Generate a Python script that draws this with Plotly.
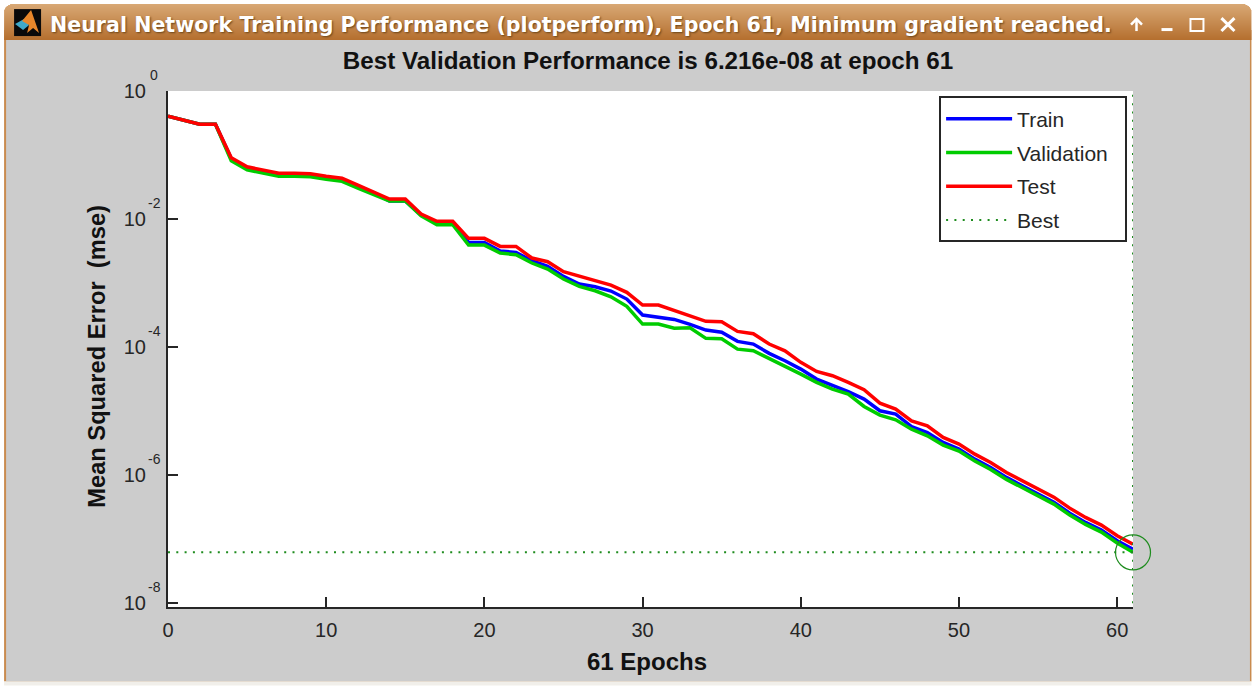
import plotly.graph_objects as go

# ---- data (as log10 of the MSE) ----
epochs = list(range(62))
train_log10 = [-0.395,-0.464,-0.520,-0.520,-1.058,-1.199,-1.246,-1.302,-1.302,-1.308,-1.349,-1.380,-1.485,-1.589,-1.719,-1.719,
 -1.938,-2.059,-2.059,-2.365,-2.365,-2.500,-2.521,-2.651,-2.740,-2.896,-3.015,-3.058,-3.125,-3.250,-3.500,-3.536,-3.568,-3.646,
 -3.734,-3.768,-3.911,-3.953,-4.098,-4.214,-4.344,-4.500,-4.593,-4.697,-4.812,-4.995,-5.047,-5.241,-5.335,-5.489,-5.594,-5.750,
 -5.880,-6.036,-6.167,-6.297,-6.422,-6.594,-6.739,-6.859,-7.026,-7.156]
validation_log10 = [-0.395,-0.464,-0.520,-0.520,-1.089,-1.230,-1.277,-1.333,-1.333,-1.339,-1.380,-1.411,-1.516,-1.620,-1.719,-1.719,
 -1.949,-2.088,-2.088,-2.407,-2.407,-2.532,-2.557,-2.687,-2.781,-2.937,-3.051,-3.120,-3.214,-3.364,-3.641,-3.641,-3.704,-3.699,
 -3.864,-3.871,-4.032,-4.058,-4.176,-4.292,-4.422,-4.552,-4.656,-4.735,-4.928,-5.063,-5.136,-5.282,-5.386,-5.531,-5.625,-5.781,
 -5.911,-6.067,-6.198,-6.328,-6.453,-6.625,-6.770,-6.890,-7.060,-7.206]
test_log10 = [-0.395,-0.464,-0.520,-0.520,-1.042,-1.183,-1.230,-1.286,-1.286,-1.292,-1.333,-1.364,-1.469,-1.573,-1.688,-1.688,
 -1.922,-2.036,-2.036,-2.302,-2.302,-2.427,-2.427,-2.609,-2.667,-2.823,-2.895,-2.964,-3.031,-3.145,-3.344,-3.344,-3.427,-3.516,
 -3.598,-3.605,-3.755,-3.792,-3.953,-4.058,-4.239,-4.380,-4.448,-4.552,-4.667,-4.875,-4.969,-5.152,-5.230,-5.411,-5.516,-5.672,
 -5.802,-5.958,-6.089,-6.219,-6.344,-6.516,-6.661,-6.781,-6.948,-7.078]
best_epoch = 61
best_value = 6.216e-08
y_exponents = [0, -2, -4, -6, -8]
x_ticks = [0, 10, 20, 30, 40, 50, 60]

W, H = 1254, 686
L, R, T, B = 168, 1133.5, 91, 607.5
INK = "#262626"
FONT = "Liberation Sans"

def to_val(a):
    return [10 ** v for v in a]

def px(x):
    return (x - L) / (R - L)

def py(y):
    return 1 - (y - T) / (B - T)

def rect(x0, y0, x1, y1, color):
    return dict(type="rect", xref="paper", yref="paper", x0=px(x0), x1=px(x1), y0=py(y0), y1=py(y1),
                fillcolor=color, line=dict(width=0), layer="below")

def path(points, fill=None, line=None, width=0, close=True):
    d = "M " + " L ".join(f"{px(a):.5f},{py(b):.5f}" for a, b in points) + (" Z" if close else "")
    return dict(type="path", xref="paper", yref="paper", path=d, fillcolor=fill or "rgba(0,0,0,0)",
                line=dict(color=line or "rgba(0,0,0,0)", width=width), layer="below")

shapes = []
# window body
shapes.append(rect(4, 30, 1252, 682, "#C98B4F"))
shapes.append(rect(6, 40, 1250.5, 682, "#CCCCCC"))
shapes.append(rect(4, 682, 1252, 686, "#F1EFEA"))
# plot background (white) sits above the window body
shapes.append(rect(L, T, R, B, "white"))
# title bar gradient with rounded top corners
top_c, bot_c = (216, 168, 116), (181, 112, 48)
rows = 36
for i in range(rows):
    t = i / (rows - 1)
    c = tuple(int(top_c[k] + (bot_c[k] - top_c[k]) * t) for k in range(3))
    inset = [6, 4, 2.5, 1.5, 1, 0.5][i] if i < 6 else 0
    shapes.append(rect(4 + inset, 4 + i, 1252 - inset, 5 + i, f"rgb{c}"))
# app icon
shapes.append(rect(14, 9, 41, 36, "#0A0A0A"))
shapes.append(path([(15, 24), (24, 19), (29, 25), (23, 30)], fill="#3FA9C9"))
shapes.append(path([(22, 21), (31, 10), (39, 33), (33, 28), (27, 33), (29, 25)], fill="#E8872B"))
# window buttons
shapes.append(path([(1137, 19), (1137, 31)], line="white", width=2.5, close=False))
shapes.append(path([(1131.5, 24.5), (1137, 19), (1142.5, 24.5)], line="white", width=2.5, close=False))
shapes.append(rect(1162, 28, 1173, 31, "white"))
shapes.append(dict(type="rect", xref="paper", yref="paper", x0=px(1191), x1=px(1204), y0=py(19), y1=py(31),
                   line=dict(color="white", width=2), fillcolor="rgba(0,0,0,0)", layer="below"))
shapes.append(path([(1222, 18), (1235, 31)], line="white", width=3, close=False))
shapes.append(path([(1235, 18), (1222, 31)], line="white", width=3, close=False))

annotations = [
    dict(text="Neural Network Training Performance (plotperform), Epoch 61, Minimum gradient reached.",
         xref="paper", yref="paper", x=px(48), y=py(25), xanchor="left", yanchor="middle", showarrow=False,
         font=dict(family="DejaVu Sans", size=20.6, color="white", weight="bold", shadow="1px 1px 2px #6b4418")),
    dict(text="<b>61 Epochs</b>", xref="paper", yref="paper", x=px(647), y=py(662), xanchor="center", yanchor="middle",
         showarrow=False, font=dict(family=FONT, size=24, color="#111111")),
    dict(text="<b>Mean Squared Error\u00a0 (mse)</b>", xref="paper", yref="paper", x=px(97), y=py(357), xanchor="center",
         yanchor="middle", textangle=-90, showarrow=False, font=dict(family=FONT, size=23.7, color="#111111")),
]
for e in y_exponents:
    annotations.append(dict(text=str(e), xref="paper", yref="y", x=px(154), y=e, yshift=16, xanchor="center",
                            yanchor="middle", showarrow=False, font=dict(family=FONT, size=14, color=INK)))

BEST_C = "rgb(30,140,30)"
DOT = "2px,6.3px"
fig = go.Figure()
for name, vals, col in [("Train", train_log10, "#0000FF"), ("Validation\u00a0\u00a0", validation_log10, "#00CC00"), ("Test", test_log10, "#FF0000")]:
    fig.add_trace(go.Scatter(x=epochs, y=to_val(vals), mode="lines", name=name, legendgroup=name,
                             line=dict(color=col, width=3.5), cliponaxis=True))
fig.add_trace(go.Scatter(x=[0, best_epoch], y=[best_value, best_value], mode="lines", name="Best", legendgroup="Best",
                         line=dict(color=BEST_C, width=2, dash=DOT)))
fig.add_trace(go.Scatter(x=[best_epoch, best_epoch], y=[1e-8, 1], mode="lines", showlegend=False,
                         line=dict(color=BEST_C, width=2, dash=DOT), cliponaxis=False))
fig.add_trace(go.Scatter(x=[best_epoch], y=[best_value], mode="markers", showlegend=False, cliponaxis=False,
                         marker=dict(symbol="circle-open", size=35, color=BEST_C, line=dict(width=1.2, color=BEST_C))))

fig.update_layout(
    width=W, height=H, autosize=False,
    margin=dict(l=L, r=W - R, t=T, b=H - B, pad=0),
    paper_bgcolor="white", plot_bgcolor="white",
    shapes=shapes, annotations=annotations,
    font=dict(family=FONT, color=INK),
    title=dict(text="<b>Best Validation Performance is 6.216e-08 at epoch 61</b>", x=648 / W, xanchor="center",
               y=1 - 61 / H, yanchor="middle", font=dict(family=FONT, size=24.2, color="#111111")),
    legend=dict(x=px(939.5), y=py(96.5), xanchor="left", yanchor="top", bgcolor="white", bordercolor=INK, borderwidth=2,
                font=dict(family=FONT, size=21, color=INK), itemwidth=66, tracegroupgap=3.5,
                traceorder="grouped", itemclick=False, itemdoubleclick=False),
    xaxis=dict(range=[0, best_epoch], tickvals=x_ticks, ticks="inside", ticklen=10, tickwidth=1.5, tickcolor=INK,
               showline=True, linecolor=INK, linewidth=2, showgrid=False, zeroline=False, ticklabelstandoff=4,
               tickfont=dict(family=FONT, size=20, color=INK)),
    yaxis=dict(type="log", range=[-8.06, 0.0], tickvals=[10.0 ** e for e in y_exponents], ticktext=["10"] * len(y_exponents),
               ticks="inside", ticklen=10, tickwidth=1.5, tickcolor=INK,
               showline=True, linecolor=INK, linewidth=2, showgrid=False, zeroline=False, ticklabelstandoff=16,
               tickfont=dict(family=FONT, size=20, color=INK)),
)

fig.write_html("out.html", config={"displayModeBar": False},
               post_script="document.body.style.margin='0';document.body.style.overflow='hidden';")
